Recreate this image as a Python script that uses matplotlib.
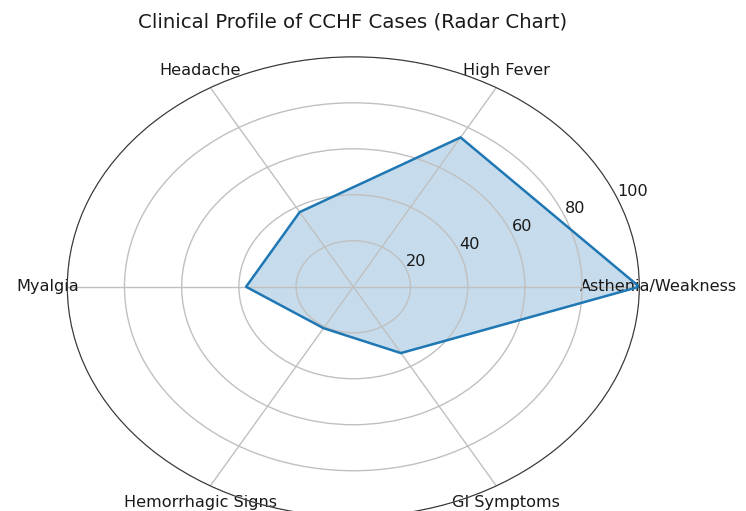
import numpy as np
import matplotlib
matplotlib.use("Agg")
import matplotlib.pyplot as plt

# symptom categories and percentage of cases
categories = ["Asthenia/Weakness", "High Fever", "Headache", "Myalgia",
              "Hemorrhagic Signs", "GI Symptoms"]
values = [100, 75, 37.5, 37.5, 20.8, 33.3]
r_ticks = [20, 40, 60, 80, 100]

angles = np.linspace(0, 2 * np.pi, len(categories), endpoint=False)
# close the polygon
angles_c = np.concatenate([angles, angles[:1]])
values_c = values + values[:1]

fig = plt.figure(figsize=(7.46, 5.11), dpi=100)
ax = fig.add_axes([0.0902, -0.0112, 0.7668, 0.900], projection="polar")
ax.set_aspect("auto")

ax.plot(angles_c, values_c, color="#1f77b4", linewidth=1.8)
ax.fill(angles_c, values_c, color="#1f77b4", alpha=0.25)

ax.set_xticks(angles)
ax.set_xticklabels(categories, fontsize=11.6, color="#1a1a1a")
ax.set_ylim(0, 100)
ax.set_yticks(r_ticks)
ax.set_yticklabels([str(t) for t in r_ticks], fontsize=11.6, color="#1a1a1a")
ax.grid(True, color="#c0c0c0", linewidth=1.0)
ax.spines["polar"].set_color("#333333")

fig.text(0.473, 0.957, "Clinical Profile of CCHF Cases (Radar Chart)",
         ha="center", va="center", fontsize=14.2, color="#1a1a1a")

fig.savefig("out.png", dpi=100)
